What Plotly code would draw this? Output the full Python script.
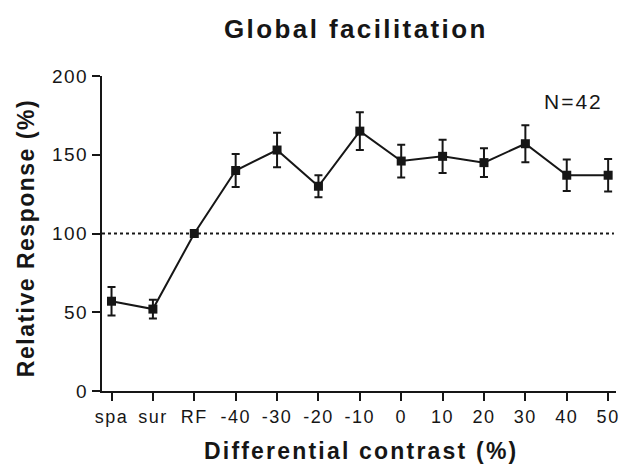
import plotly.graph_objects as go

categories = ["spa", "sur", "RF", "-40", "-30", "-20", "-10", "0", "10", "20", "30", "40", "50"]
response = [57, 52, 100, 140, 153, 130, 165, 146, 149, 145, 157, 137, 137]
sem = [9, 6, 0, 10.5, 11, 7, 12, 10.4, 10.6, 9.2, 11.7, 10, 10.3]
y_ticks = [0, 50, 100, 150, 200]
reference_level = 100

INK = "#161616"
FONT = "Liberation Sans, Arial, Helvetica, sans-serif"


def spaced(text, px):
    return f'<span style="letter-spacing:{px}px">{text}</span>'


fig = go.Figure()
fig.add_trace(go.Scatter(
    x=categories, y=response,
    mode="lines+markers",
    line=dict(color=INK, width=2),
    marker=dict(symbol="square", size=9, color=INK),
    error_y=dict(type="data", array=sem, visible=True, color=INK, thickness=2, width=4),
    showlegend=False,
))

fig.add_shape(type="line", xref="paper", yref="y", x0=0, x1=0.996,
              y0=reference_level, y1=reference_level,
              line=dict(color=INK, width=2, dash="dot"))

fig.update_layout(
    width=624, height=470,
    margin=dict(l=102, r=8, t=76, b=79),
    paper_bgcolor="white", plot_bgcolor="white",
    font=dict(family=FONT, color=INK, size=18),
    xaxis=dict(
        type="category", range=[-0.23, 12.19], automargin=False,
        tickmode="array", tickvals=categories,
        ticktext=[spaced(c, 1.5) for c in categories],
        showline=True, linecolor=INK, linewidth=2,
        ticks="outside", ticklen=8, tickwidth=2, tickcolor=INK,
        showgrid=False, zeroline=False,
        tickfont=dict(size=18, family=FONT, color=INK),
    ),
    yaxis=dict(
        range=[0, 200], tickmode="array", tickvals=y_ticks, automargin=False,
        ticktext=[spaced(str(v), 1.5) for v in y_ticks],
        showline=True, linecolor=INK, linewidth=2,
        ticks="outside", ticklen=8, tickwidth=2, tickcolor=INK,
        showgrid=False, zeroline=False,
        tickfont=dict(size=19, family=FONT, color=INK),
    ),
    annotations=[
        dict(text="<b>" + spaced("Global facilitation", 2.4) + "</b>", xref="paper", yref="paper",
             x=0.495, y=1.15, xanchor="center", yanchor="middle", showarrow=False,
             font=dict(size=26, family=FONT, color=INK)),
        dict(text="<b>" + spaced("Differential contrast (%)", 2.2) + "</b>", xref="paper", yref="paper",
             x=0.504, y=-0.189, xanchor="center", yanchor="middle", showarrow=False,
             font=dict(size=23, family=FONT, color=INK)),
        dict(text="<b>" + spaced("Relative Response (%)", 1.5) + "</b>", xref="paper", yref="paper",
             x=-0.148, y=0.485, xanchor="center", yanchor="middle", showarrow=False,
             textangle=-90, font=dict(size=23, family=FONT, color=INK)),
        dict(text=spaced("N=42", 2), xref="paper", yref="paper",
             x=0.918, y=0.92, xanchor="center", yanchor="middle", showarrow=False,
             font=dict(size=21, family=FONT, color=INK)),
    ],
)

fig.write_html("out.html", config={"displayModeBar": False},
               post_script="document.body.style.margin='0';")
